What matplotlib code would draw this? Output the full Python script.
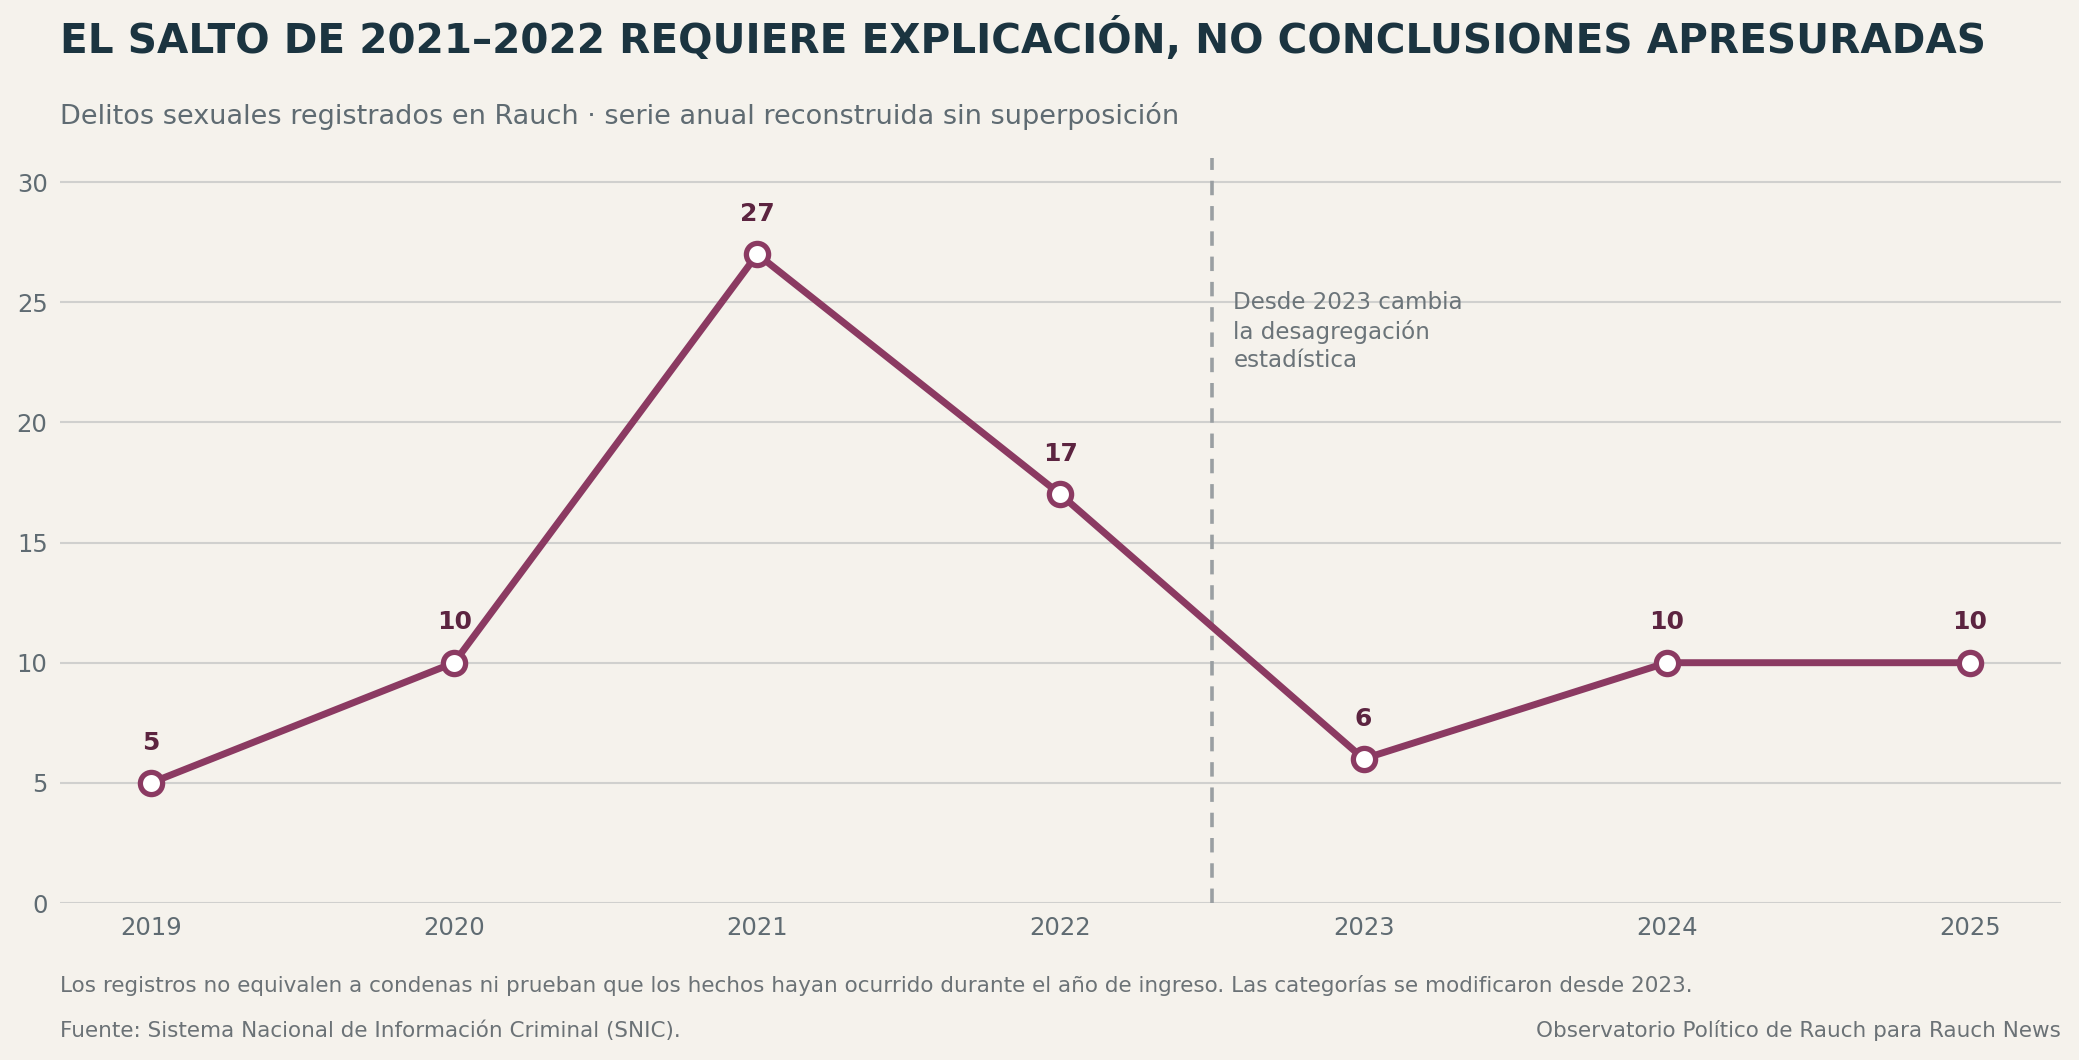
import matplotlib
matplotlib.use('Agg')
from matplotlib import pyplot as plt

years = [2019, 2020, 2021, 2022, 2023, 2024, 2025]
cases = [5, 10, 27, 17, 6, 10, 10]
y_ticks = [0, 5, 10, 15, 20, 25, 30]

bg = '#f5f2ec'
line_c = '#8b3a62'
label_c = '#5c2440'
grey = '#5f6b72'

plt.rcParams['font.family'] = ['DejaVu Sans']

fig = plt.figure(figsize=(20.79, 10.60), dpi=100, facecolor=bg)
ax = fig.add_axes([0.0289, 0.1481, 0.9624, 0.7028])
ax.set_facecolor(bg)

# serie principal
ax.plot(years, cases, color=line_c, lw=5.0, marker='o', ms=16,
        mfc='white', mec=line_c, mew=3.8, zorder=4)
for x, y in zip(years, cases):
    ax.annotate(str(y), (x, y), xytext=(0, 29), textcoords='offset points',
                ha='center', va='center', fontsize=18, fontweight='bold',
                color=label_c, zorder=5)

# corte de 2023
ax.axvline(2022.5, color='#9a9fa2', lw=2.6, ls=(0, (4, 3)), zorder=3)
ax.text(2022.57, 25.45, 'Desde 2023 cambia\nla desagregación\nestadística',
        ha='left', va='top', fontsize=16.6, color='#6b7479', linespacing=1.28)

ax.set_xlim(2018.7, 2025.3)
ax.set_ylim(0, 31)
ax.set_xticks(years)
ax.set_yticks(y_ticks)
ax.grid(axis='y', color='#d0d0ce', lw=1.5, zorder=0)
ax.grid(axis='x', visible=False)
for s in ax.spines.values():
    s.set_visible(False)
ax.tick_params(axis='both', length=0, labelsize=17.5, colors=grey, pad=9)

fig.text(0.0289, 0.950, 'EL SALTO DE 2021–2022 REQUIERE EXPLICACIÓN, NO CONCLUSIONES APRESURADAS',
         fontsize=29.2, fontweight='bold', color='#1b3440', ha='left', va='baseline')
fig.text(0.0289, 0.883, 'Delitos sexuales registrados en Rauch · serie anual reconstruida sin superposición',
         fontsize=19.5, color=grey, ha='left', va='baseline')
fig.text(0.0289, 0.0642, 'Los registros no equivalen a condenas ni prueban que los hechos hayan ocurrido '
         'durante el año de ingreso. Las categorías se modificaron desde 2023.',
         fontsize=15.5, color='#6b7276', ha='left', va='baseline')
fig.text(0.0289, 0.0217, 'Fuente: Sistema Nacional de Información Criminal (SNIC).',
         fontsize=15.5, color='#6b7276', ha='left', va='baseline')
fig.text(0.9913, 0.0217, 'Observatorio Político de Rauch para Rauch News',
         fontsize=15.5, color='#6b7276', ha='right', va='baseline')

fig.savefig('out.png', dpi=100, facecolor=bg)
